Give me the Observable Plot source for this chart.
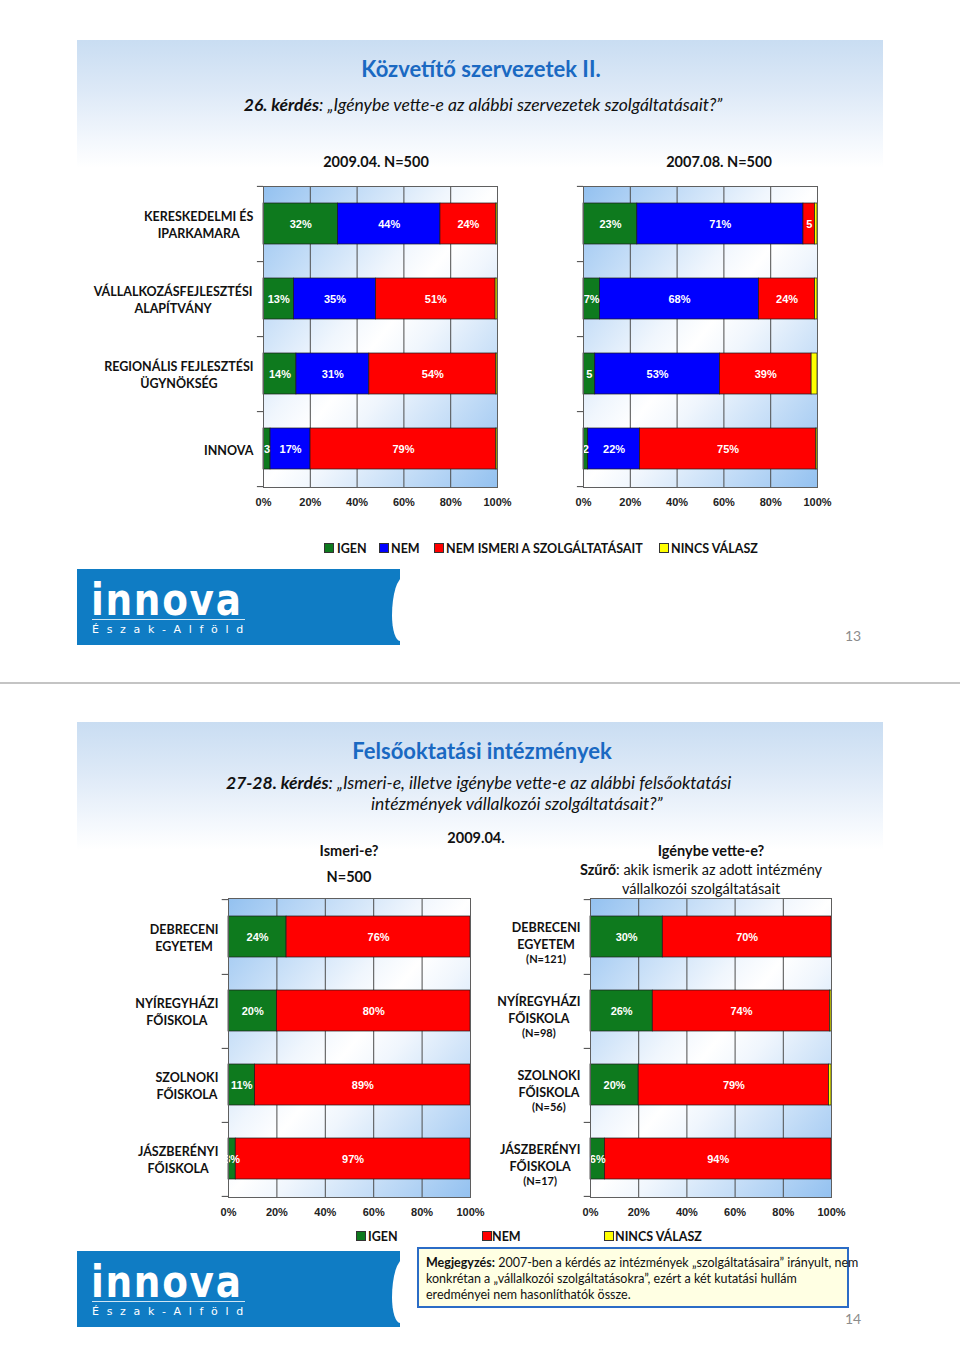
<!DOCTYPE html>
<html><head><meta charset="utf-8">
<script src="https://cdn.jsdelivr.net/npm/d3@7"></script>
<script src="https://cdn.jsdelivr.net/npm/@observablehq/plot@0.6"></script>
<style>
body{margin:0;background:#fff;}
#page{position:relative;width:960px;height:1367px;overflow:hidden;background:#fff;font-family:Lato,"Noto Sans",sans-serif;color:#111;}
.c{position:absolute;transform:translate(-50%,-50%);white-space:nowrap;}
.l{position:absolute;transform:translate(0,-50%);white-space:nowrap;}
.hdr{position:absolute;left:77px;width:806px;height:128px;background:linear-gradient(to bottom,#c9ddf2 0%,#dde9f7 40%,#f4f8fd 80%,#ffffff 100%);}
.title{color:#1a69c2;font-weight:700;font-size:22px;}
.sub{font-style:italic;font-size:17.5px;}
.bold{font-weight:700;}
.hd{font-size:14.5px;font-weight:700;}
.chart{position:absolute;}
.logo{position:absolute;left:77px;width:323px;height:76px;background:#0f7cc4;overflow:hidden;color:#fff;}
.logo .big{position:absolute;left:14px;top:13px;font-size:44px;line-height:0.8;font-weight:700;letter-spacing:2px;font-family:"DejaVu Sans",sans-serif;transform:scaleX(0.85);transform-origin:left top;}
.logo .line{position:absolute;left:15px;top:50px;width:153px;height:1px;background:rgba(255,255,255,0.8);}
.logo .small{position:absolute;left:15px;top:54px;font-size:11px;line-height:13px;letter-spacing:7.7px;font-family:"DejaVu Sans",sans-serif;}
.logo .face{position:absolute;left:315px;top:8px;width:20px;height:64px;background:#fff;border-radius:60% 0 0 40%;}
.sq{position:absolute;width:8px;height:8px;border:1px solid #333;transform:translate(0,-50%);}
.leg{font-size:12.5px;font-weight:700;}
.pnum{color:#8c8c8c;font-size:14px;}
.note{position:absolute;left:417px;top:1247px;width:432px;height:61px;background:#ffffe3;border:2px solid #2b6cc6;font-size:12.5px;line-height:16px;padding:6px 0 0 7px;box-sizing:border-box;white-space:nowrap;overflow:visible;}
</style></head>
<body>
<svg width="0" height="0" style="position:absolute"><defs>
<linearGradient id="bgGrad" x1="0" y1="0" x2="1" y2="1">
<stop offset="0" stop-color="#93c1f0"/><stop offset="0.4" stop-color="#f0f6fd"/><stop offset="0.5" stop-color="#ffffff"/><stop offset="0.6" stop-color="#f0f6fd"/><stop offset="1" stop-color="#93c1f0"/>
</linearGradient></defs></svg>
<div id="page">
  <!-- slide 1 -->
  <div class="hdr" style="top:40px"></div>
  <div class="c title" style="left:481px;top:68px">Közvetítő szervezetek II.</div>
  <div class="c sub" style="left:483px;top:104px"><b>26. kérdés</b>: „Igénybe vette-e az alábbi szervezetek szolgáltatásait?”</div>
  <div class="c hd" style="left:376px;top:161px">2009.04. N=500</div>
  <div class="c hd" style="left:719px;top:161px">2007.08. N=500</div>
  <div id="c1" class="chart" style="left:80px;top:176px"></div>
  <div id="c2" class="chart" style="left:560px;top:176px"></div>
  <div id="leg1"></div>
  <div class="logo" style="top:569px"><div class="big">innova</div><div class="line"></div><div class="small">Észak-Alföld</div><div class="face"></div></div>
  <div class="c pnum" style="left:853px;top:635px">13</div>
  <div style="position:absolute;left:0;top:682px;width:960px;height:2px;background:#c4c4c4"></div>

  <!-- slide 2 -->
  <div class="hdr" style="top:722px"></div>
  <div class="c title" style="left:482px;top:750px">Felsőoktatási intézmények</div>
  <div class="l sub" style="left:226px;top:782px"><b>27-28. kérdés</b>: „Ismeri-e, illetve igénybe vette-e az alábbi felsőoktatási</div>
  <div class="l sub" style="left:371px;top:803px">intézmények vállalkozói szolgáltatásait?”</div>
  <div class="c hd" style="left:476px;top:837px">2009.04.</div>
  <div class="c hd" style="left:349px;top:850px">Ismeri-e?</div>
  <div class="c hd" style="left:349px;top:876px">N=500</div>
  <div class="c hd" style="left:711px;top:850px">Igénybe vette-e?</div>
  <div class="c" style="left:701px;top:869px;font-size:14.5px"><b>Szűrő</b>: akik ismerik az adott intézmény</div>
  <div class="c" style="left:701px;top:888px;font-size:14.5px">vállalkozói szolgáltatásait</div>
  <div id="c3" class="chart" style="left:0px;top:888px"></div>
  <div id="c4" class="chart" style="left:490px;top:888px"></div>
  <div id="leg2"></div>
  <div class="logo" style="top:1251px"><div class="big">innova</div><div class="line"></div><div class="small">Észak-Alföld</div><div class="face"></div></div>
  <div class="note"><b>Megjegyzés:</b> 2007-ben a kérdés az intézmények „szolgáltatásaira” irányult, nem<br>konkrétan a „vállalkozói szolgáltatásokra”, ezért a két kutatási hullám<br>eredményei nem hasonlíthatók össze.</div>
  <div class="c pnum" style="left:853px;top:1318px">14</div>
</div>
<script>
// ---------- data ----------
const orgCats = ["KERESKEDELMI ÉS\nIPARKAMARA", "VÁLLALKOZÁSFEJLESZTÉSI\nALAPÍTVÁNY", "REGIONÁLIS FEJLESZTÉSI\nÜGYNÖKSÉG", "INNOVA"];
const orgSeries = ["IGEN", "NEM", "NEM ISMERI A SZOLGÁLTATÁSAIT", "NINCS VÁLASZ"];
const igen2009 = [32, 13, 14, 3];
const nem2009 = [44, 35, 31, 17];
const nemIsmeri2009 = [24, 51, 54, 79];
const nincs2009 = [0.5, 0.8, 0.5, 0.5];
const igen2007 = [23, 7, 5, 2];
const nem2007 = [71, 68, 53, 22];
const nemIsmeri2007 = [5, 24, 39, 75];
const nincs2007 = [1, 1, 2.5, 0.5];

const uniCats = ["DEBRECENI\nEGYETEM", "NYÍREGYHÁZI\nFŐISKOLA", "SZOLNOKI\nFŐISKOLA", "JÁSZBERÉNYI\nFŐISKOLA"];
const uniN = ["(N=121)", "(N=98)", "(N=56)", "(N=17)"];
const uniSeries = ["IGEN", "NEM", "NINCS VÁLASZ"];
const ismeriIgen = [24, 20, 11, 3];
const ismeriNem = [76, 80, 89, 97];
const igenybeIgen = [30, 26, 20, 6];
const igenybeNem = [70, 74, 79, 94];
const igenybeNincs = [0, 0.6, 1, 0];

const xTicks = [0, 0.2, 0.4, 0.6, 0.8, 1];
const GREEN = "#0e7a1e", BLUE = "#0000ff", RED = "#ff0000", YELLOW = "#ffff00";

function chart(cfg) {
  const {cats, series, colors, values, width, height, mL, mR, mT, mB, noPctBelow = 0, catLabels = false, nLabels = null} = cfg;
  const data = [];
  cats.forEach((c, i) => series.forEach((s, j) => data.push({cat: c, series: s, value: values[j][i]})));
  const step = (height - mT - mB) / cats.length;
  const fmt = d => (d.series === "NINCS VÁLASZ" || d.value <= 0) ? "" : (d.value < noPctBelow ? `${d.value}` : `${d.value}%`);
  const marks = [
    Plot.frame({fill: "url(#bgGrad)"}),
    Plot.ruleX(xTicks, {stroke: "#4d4d4d", strokeWidth: 1}),
    Plot.barX(data, Plot.stackX({x: "value", y: "cat", fill: "series", offset: "normalize", stroke: "#1a1a1a", strokeWidth: 0.7})),
    Plot.text(data, Plot.stackX({x: "value", y: "cat", z: "series", offset: "normalize", text: fmt, fill: "white", fontSize: 11})),
    Plot.frame({stroke: "#5f5f5f"}),
    Plot.ruleY(cats, {y: d => d, x1: -0.026, x2: 0, dy: step / 2, stroke: "#444"}),
    Plot.ruleY(cats.slice(0, 1), {y: d => d, x1: -0.026, x2: 0, dy: -step / 2, stroke: "#444"})
  ];
  if (catLabels) marks.push(Plot.text(cats, {y: d => d, text: d => d, frameAnchor: "left", textAnchor: "end", dx: -10, fontFamily: "Lato, sans-serif", fontWeight: "bold", fontSize: cfg.catSize || 12.5, fill: "#111", lineHeight: cfg.lh || 1.4, dy: cfg.catDy || 0, ariaLabel: () => "catlabel"}));
  if (nLabels) marks.push(Plot.text(cats, {y: d => d, text: (d, i) => nLabels[i], frameAnchor: "left", textAnchor: "middle", dx: -45, dy: 22, fontFamily: "Lato, sans-serif", fontWeight: "bold", fontSize: 11, fill: "#111", ariaLabel: () => "nlabel"}));
  return Plot.plot({
    width, height, marginLeft: mL, marginRight: mR, marginTop: mT, marginBottom: mB,
    style: {fontFamily: "Liberation Sans, Arial, sans-serif", fontSize: "11px", fontWeight: "bold", background: "transparent", overflow: "visible", color: "#222"},
    x: {domain: [0, 1], ticks: xTicks, tickFormat: d3.format(".0%"), tickSize: 0, tickPadding: 11, label: null},
    y: {domain: cats, paddingInner: 0.45, paddingOuter: 0.225, axis: null},
    color: {domain: series, range: colors},
    marks
  });
}

function centerLabels(svg) {
  const texts = [...svg.querySelectorAll('text[aria-label="catlabel"]')];
  const centers = texts.map(t => {
    const w = t.getBBox().width;
    t.setAttribute("text-anchor", "middle");
    t.setAttribute("transform", (t.getAttribute("transform") || "") + ` translate(${-w / 2},0)`);
    const r = t.getBoundingClientRect();
    return r.left + r.width / 2;
  });
  const ns = [...svg.querySelectorAll('text[aria-label="nlabel"]')];
  ns.forEach((t, i) => {
    const r = t.getBoundingClientRect();
    const shift = centers[i] - (r.left + r.width / 2);
    t.setAttribute("transform", (t.getAttribute("transform") || "") + ` translate(${shift},0)`);
  });
}

function place(id, svg) {
  document.getElementById(id).appendChild(svg);
  centerLabels(svg);
}

place("c1", chart({cats: orgCats, series: orgSeries, colors: [GREEN, BLUE, RED, YELLOW],
  values: [igen2009, nem2009, nemIsmeri2009, nincs2009], width: 440, height: 338, mL: 183, mR: 23, mT: 10, mB: 27,
  noPctBelow: 6, catLabels: true}));
place("c2", chart({cats: orgCats, series: orgSeries, colors: [GREEN, BLUE, RED, YELLOW],
  values: [igen2007, nem2007, nemIsmeri2007, nincs2007], width: 280, height: 338, mL: 23, mR: 23, mT: 10, mB: 27,
  noPctBelow: 6}));
place("c3", chart({cats: uniCats, series: ["IGEN", "NEM"], colors: [GREEN, RED],
  values: [ismeriIgen, ismeriNem], width: 500, height: 337, mL: 228, mR: 30, mT: 10, mB: 28,
  catLabels: true, lh: 1.38}));
place("c4", chart({cats: uniCats, series: uniSeries, colors: [GREEN, RED, YELLOW],
  values: [igenybeIgen, igenybeNem, igenybeNincs], width: 370, height: 337, mL: 100, mR: 29, mT: 10, mB: 28,
  catLabels: true, lh: 1.38, catDy: -2, nLabels: uniN}));

// ---------- legends ----------
function legend(id, y, items) {
  const host = document.getElementById(id);
  items.forEach(([label, color, sqx, tx]) => {
    const s = document.createElement("div");
    s.className = "sq"; s.style.left = sqx + "px"; s.style.top = y + "px"; s.style.background = color;
    host.appendChild(s);
    const t = document.createElement("div");
    t.className = "l leg"; t.style.left = tx + "px"; t.style.top = y + "px"; t.textContent = label;
    host.appendChild(t);
  });
}
const orgColors = [GREEN, BLUE, RED, YELLOW];
legend("leg1", 548, orgSeries.map((s, i) => [s, orgColors[i], [324, 379, 434, 659][i], [337, 391, 446, 671][i]]));
const uniColors = [GREEN, RED, YELLOW];
legend("leg2", 1236, uniSeries.map((s, i) => [s, uniColors[i], [356, 482, 604][i], [368, 492, 615][i]]));
</script>
</body></html>
